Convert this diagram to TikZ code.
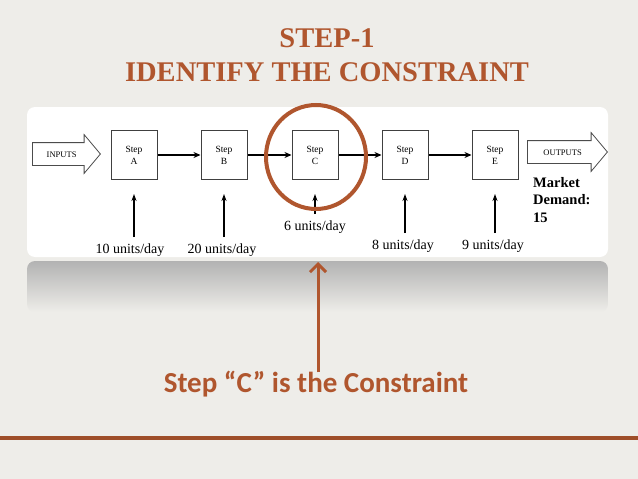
\documentclass[tikz,border=0pt]{standalone}
\usepackage{fontspec}
\setmainfont{Liberation Serif}
\newfontfamily\calib{Carlito}
\usetikzlibrary{arrows.meta,shapes.arrows,positioning}
\definecolor{rust}{RGB}{176,86,46}
\definecolor{paper}{RGB}{238,237,233}

\begin{document}
\begin{tikzpicture}[x=1pt,y=-1pt,
  stepbox/.style={draw=black!75,line width=1pt,fill=white,minimum width=46pt,minimum height=49pt,align=center,font=\fontsize{9.5}{12}\selectfont},
  flow/.style={line width=1.8pt,-{Stealth[length=7pt,width=6pt]}},
  feed/.style={line width=1.2pt,-{Stealth[length=7pt,width=5pt]}},
  rate/.style={font=\fontsize{14}{16}\selectfont,inner sep=0pt,anchor=base},
  bigarrow/.style={shape=single arrow,draw=black!70,line width=0.8pt,fill=white,single arrow head extend=8pt,single arrow head indent=0pt,single arrow tip angle=100,inner xsep=3pt,inner ysep=8pt,text height=6pt,text depth=0pt,font=\fontsize{8.5}{9}\selectfont,anchor=tail},
  headline/.style={text=rust,font=\bfseries\fontsize{28.5}{32}\selectfont,anchor=base}]

\useasboundingbox (0,0) rectangle (638,479);
\fill[paper] (0,0) rectangle (638,479);

% title
\node[headline] (step) at (327,47) {STEP-1};
\node[headline] (ident) at (327,81) {IDENTIFY THE CONSTRAINT};

% white panel and its reflection
\shade[top color=black!30,bottom color=paper,rounded corners=8pt] (27,261) rectangle (608,312);
\fill[white,rounded corners=8pt] (27,107) rectangle (608,257);

% process steps
\node[stepbox] (a) at (134,155) {Step\\A};
\node[stepbox] (b) at (224,155) {Step\\B};
\node[stepbox] (c) at (315,155) {Step\\C};
\node[stepbox] (d) at (405,155) {Step\\D};
\node[stepbox] (e) at (495,155) {Step\\E};
\draw[flow] (a) -- (b);
\draw[flow] (b) -- (c);
\draw[flow] (c) -- (d);
\draw[flow] (d) -- (e);

\node[bigarrow,minimum height=68pt] (inputs) at (32,154) {INPUTS};
\node[bigarrow,minimum height=80pt] (outputs) at (527,152) {OUTPUTS};

% capacities
\node[rate] (ra) at (130,253) {10 units/day};
\node[rate] (rb) at (222,253) {20 units/day};
\node[rate] (rc) at (315,230) {6 units/day};
\node[rate] (rd) at (403,249) {8 units/day};
\node[rate] (re) at (493,249) {9 units/day};
\draw[feed] (a.south |- ra.north) ++(0,-6) -- ([yshift=-14pt]a.south);
\draw[feed] (b.south |- rb.north) ++(0,-6) -- ([yshift=-14pt]b.south);
\draw[feed] (c.south |- rc.north) ++(0,-6) -- ([yshift=-14pt]c.south);
\draw[feed] (d.south |- rd.north) ++(0,-6) -- ([yshift=-14pt]d.south);
\draw[feed] (e.south |- re.north) ++(0,-6) -- ([yshift=-14pt]e.south);

\node[align=left,anchor=north west,inner sep=0pt,font=\bfseries\fontsize{14.5}{17.5}\selectfont] (demand) at (533,177) {Market\\Demand:\\15};

% the bottleneck
\draw[rust,line width=4pt] (316,157) ellipse [x radius=50pt,y radius=52pt];

\node[text=rust,inner sep=0pt,anchor=base,font=\calib\bfseries\fontsize{29}{32}\selectfont] (constr) at (316,392) {Step “C” is the Constraint};
\coordinate (ctip) at (318,262);
\draw[rust,line width=3pt,-{Straight Barb[length=8pt,width=16pt]}] ([yshift=-2pt]constr.north -| ctip) -- (ctip);

\draw[rust!90!black,line width=4pt] (0,438) -- (638,438);
\end{tikzpicture}
\end{document}
